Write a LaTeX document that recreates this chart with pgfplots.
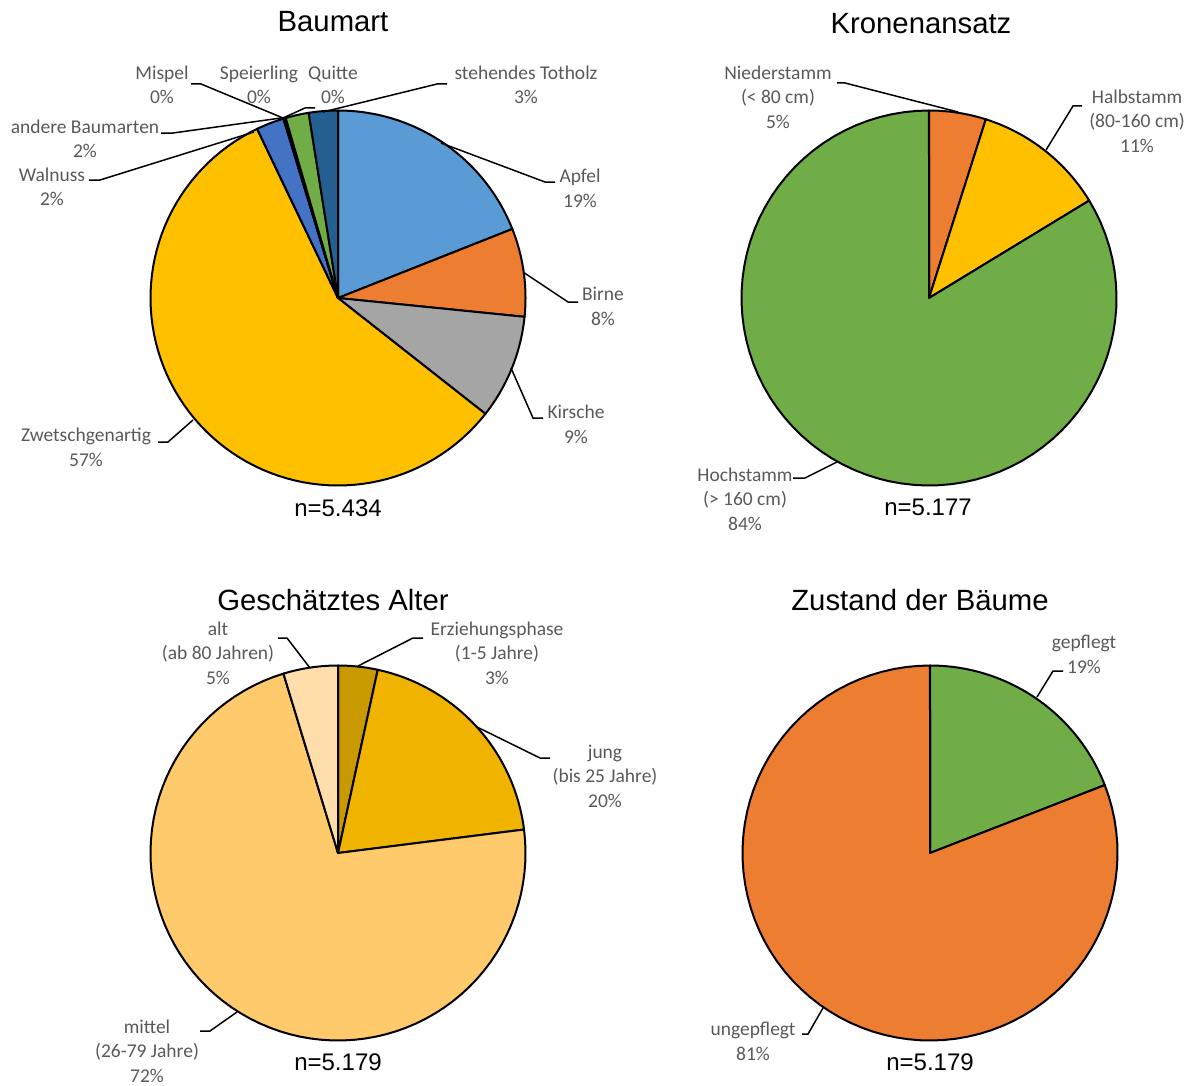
\documentclass[border=0pt]{standalone}
\usepackage{fontspec}
\setmainfont{Liberation Sans}
\newfontfamily\labelfamily{Carlito}
\usepackage{pgfplots}
\usepackage{pgfplotstable}
\pgfplotsset{compat=1.18}

% slice colours
\definecolor{apfel}{HTML}{5B9BD5}
\definecolor{birne}{HTML}{ED7D31}
\definecolor{kirsche}{HTML}{A5A5A5}
\definecolor{zwetschge}{HTML}{FFC000}
\definecolor{walnuss}{HTML}{4472C4}
\definecolor{andere}{HTML}{70AD47}
\definecolor{mispel}{HTML}{264478}
\definecolor{speierling}{HTML}{9E480E}
\definecolor{quitte}{HTML}{636363}
\definecolor{totholz}{HTML}{255E91}
\definecolor{erziehung}{HTML}{C89A00}
\definecolor{jung}{HTML}{F0B400}
\definecolor{mittel}{HTML}{FFCA6C}
\definecolor{alt}{HTML}{FFDEAB}
\definecolor{labelgray}{HTML}{595959}

% shares in percent, clockwise from twelve o'clock
\pgfplotstableread{
share colour
19.0  apfel
7.6   birne
9.0   kirsche
57.3  zwetschge
2.4   walnuss
0.05  mispel
0.05  speierling
0.1   quitte
2.0   andere
2.5   totholz
}\baumart

\pgfplotstableread{
share colour
4.9   birne
11.4  zwetschge
83.7  andere
}\kronen

\pgfplotstableread{
share colour
3.4   erziehung
19.6  jung
72.3  mittel
4.7   alt
}\alter

\pgfplotstableread{
share colour
19.1  andere
80.9  birne
}\zustand

% #1,#2 centre, #3 radius, #4 table
\newcommand\pieslices[4]{%
  \pgfmathsetmacro\piecum{0}%
  \pgfplotstablegetrowsof{#4}%
  \pgfmathtruncatemacro\pielast{\pgfplotsretval-1}%
  \pgfplotsforeachungrouped \i in {0,...,\pielast}{%
    \pgfplotstablegetelem{\i}{share}\of{#4}\let\pieshare\pgfplotsretval
    \pgfplotstablegetelem{\i}{colour}\of{#4}\let\piecol\pgfplotsretval
    \pgfmathsetmacro\piea{3.6*\piecum}%
    \pgfmathsetmacro\piecum{\piecum+\pieshare}%
    \pgfmathsetmacro\pieb{3.6*\piecum}%
    \edef\pienext{\noexpand\addplot[fill=\piecol, draw=black, line width=1pt,
        line join=round, domain=\piea:\pieb, samples=80, variable=\noexpand\t]
        ({#1+#3*sin(\noexpand\t)},{#2-#3*cos(\noexpand\t)})
        -- (axis cs:#1,#2) -- cycle;}%
    \pienext
  }%
}

\tikzset{
  lbl/.style={font=\labelfamily\fontsize{9.75}{12.25}\selectfont, text=labelgray,
    align=center, inner sep=0pt},
  ttl/.style={font=\fontsize{14.65}{17}\selectfont, inner sep=0pt},
  nlbl/.style={font=\fontsize{12}{14}\selectfont, inner sep=0pt},
  lead/.style={line width=0.75pt, black},
}

\begin{document}
\begin{tikzpicture}
\begin{axis}[
  width=596.5pt, height=543pt, scale only axis,
  xmin=0, xmax=1193, ymin=0, ymax=1086, y dir=reverse,
  hide axis, clip=false,
]
% Baumart
\pieslices{338}{298}{187.5}{\baumart}
% Kronenansatz
\pieslices{929}{298}{187.5}{\kronen}
% Geschaetztes Alter
\pieslices{338}{853}{187.5}{\alter}
% Zustand
\pieslices{930}{853}{187.5}{\zustand}

% titles and sample sizes
\node[ttl] at (axis cs:333,22) {Baumart};
\node[ttl] at (axis cs:921,24) {Kronenansatz};
\node[ttl] at (axis cs:333,600) {Geschätztes Alter};
\node[ttl] at (axis cs:920,600) {Zustand der Bäume};
\node[nlbl] at (axis cs:338,508) {n=5.434};
\node[nlbl] at (axis cs:928,507) {n=5.177};
\node[nlbl] at (axis cs:338,1062) {n=5.179};
\node[nlbl] at (axis cs:930,1062) {n=5.179};

% Baumart labels
\draw[lead] (axis cs:441,143) -- (axis cs:545,182) -- (axis cs:555,182);
\node[lbl] at (axis cs:580,188.5) {Apfel\\19\%};
\draw[lead] (axis cs:523,272) -- (axis cs:568,302) -- (axis cs:578,302);
\node[lbl] at (axis cs:603,306.5) {Birne\\8\%};
\draw[lead] (axis cs:511,368) -- (axis cs:533,418) -- (axis cs:543,418);
\node[lbl] at (axis cs:576,424.5) {Kirsche\\9\%};
\draw[lead] (axis cs:193,420) -- (axis cs:168,442) -- (axis cs:158,442);
\node[lbl] at (axis cs:86,447.5) {Zwetschgenartig\\57\%};
\draw[lead] (axis cs:254,132) -- (axis cs:100,180) -- (axis cs:89,180);
\node[lbl] at (axis cs:52,187) {Walnuss\\2\%};
\draw[lead] (axis cs:281,118) -- (axis cs:173,133) -- (axis cs:161,133);
\node[lbl] at (axis cs:85,139) {andere Baumarten\\2\%};
\draw[lead] (axis cs:283,118) -- (axis cs:201,84) -- (axis cs:191,84);
\node[lbl] at (axis cs:162,85) {Mispel\\0\%};
\node[lbl] at (axis cs:259,85) {Speierling\\0\%};
\draw[lead] (axis cs:283,118) -- (axis cs:305,108) -- (axis cs:315,108);
\node[lbl] at (axis cs:333,85) {Quitte\\0\%};
\draw[lead] (axis cs:323,112) -- (axis cs:437,84) -- (axis cs:447,84);
\node[lbl] at (axis cs:526,85) {stehendes Totholz\\3\%};

% Kronenansatz labels
\draw[lead] (axis cs:958,112) -- (axis cs:845,83) -- (axis cs:837,83);
\node[lbl] at (axis cs:778,97) {Niederstamm\\(< 80 cm)\\5\%};
\draw[lead] (axis cs:1046,150) -- (axis cs:1073,106) -- (axis cs:1082,106);
\node[lbl] at (axis cs:1137,121) {Halbstamm\\(80-160 cm)\\11\%};
\draw[lead] (axis cs:837,462) -- (axis cs:805,478) -- (axis cs:793,478);
\node[lbl] at (axis cs:745,499) {Hochstamm\\(> 160 cm)\\84\%};

% Alter labels
\draw[lead] (axis cs:358,666) -- (axis cs:413,638) -- (axis cs:423,638);
\node[lbl] at (axis cs:497,653) {Erziehungsphase\\(1-5 Jahre)\\3\%};
\draw[lead] (axis cs:477,727) -- (axis cs:540,758) -- (axis cs:550,758);
\node[lbl] at (axis cs:605,776) {jung\\(bis 25 Jahre)\\20\%};
\draw[lead] (axis cs:237,1012) -- (axis cs:210,1031) -- (axis cs:200,1031);
\node[lbl] at (axis cs:147,1051) {mittel\\(26-79 Jahre)\\72\%};
\draw[lead] (axis cs:310,668) -- (axis cs:287,638) -- (axis cs:278,638);
\node[lbl] at (axis cs:218,653) {alt\\(ab 80 Jahren)\\5\%};

% Zustand labels
\draw[lead] (axis cs:1037,697) -- (axis cs:1053,671) -- (axis cs:1063,671);
\node[lbl] at (axis cs:1084,654.5) {gepflegt\\19\%};
\draw[lead] (axis cs:823,1008) -- (axis cs:808,1034) -- (axis cs:802,1034);
\node[lbl] at (axis cs:753,1041.5) {ungepflegt\\81\%};
\end{axis}
\pgfresetboundingbox
\path (current axis.south west) rectangle (current axis.north east);
\end{tikzpicture}
\end{document}
